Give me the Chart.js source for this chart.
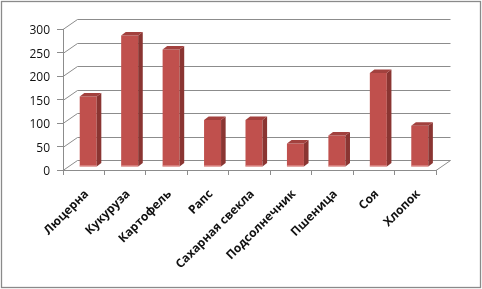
<!DOCTYPE html>
<html>
<head>
<meta charset="utf-8">
<script src="https://cdn.jsdelivr.net/npm/chart.js@4.4.1/dist/chart.umd.min.js"></script>
<style>
html,body{margin:0;padding:0;background:#fff;}
#wrap{width:482px;height:289px;position:relative;}
</style>
</head>
<body>
<div id="wrap"><canvas id="c" width="482" height="289"></canvas></div>
<script>
const categories = ["Люцерна","Кукуруза","Картофель","Рапс","Сахарная свекла","Подсолнечник","Пшеница","Соя","Хлопок"];
const values = [150, 280, 250, 100, 100, 50, 67, 200, 88];
const yTicks = [0, 50, 100, 150, 200, 250, 300];

const GRID = '#8c8c8c';
const WALL = {dx: 14.5, dy: -10};
const BAR_SHIFT = {dx: 4.5, dy: -3};
const BAR_DEPTH = {dx: 4.6, dy: -3.5};

const wallPlugin = {
  id: 'wall3d',
  beforeDatasetsDraw(chart) {
    const ctx = chart.ctx, y = chart.scales.y, a = chart.chartArea;
    ctx.save();
    ctx.strokeStyle = GRID;
    ctx.lineWidth = 1;
    ctx.beginPath();
    yTicks.forEach(v => {
      const py = Math.round(y.getPixelForValue(v)) + 0.5;
      ctx.moveTo(a.left, py);
      ctx.lineTo(a.left + WALL.dx, py + WALL.dy);
      ctx.lineTo(a.right + WALL.dx, py + WALL.dy);
    });
    const by = Math.round(y.getPixelForValue(0)) + 0.5;
    ctx.moveTo(a.right, by);
    ctx.lineTo(a.right + WALL.dx, by + WALL.dy);
    ctx.stroke();
    ctx.restore();
    ctx.save();
    ctx.translate(BAR_SHIFT.dx, BAR_SHIFT.dy);
  },
  afterDatasetsDraw(chart) {
    const ctx = chart.ctx;
    const meta = chart.getDatasetMeta(0);
    meta.data.forEach(bar => {
      const p = bar.getProps(['x','y','base','width'], true);
      const l = p.x - p.width/2, r = p.x + p.width/2, t = p.y, b = p.base;
      ctx.fillStyle = '#8a3532';
      ctx.beginPath();
      ctx.moveTo(r, t); ctx.lineTo(r + BAR_DEPTH.dx, t + BAR_DEPTH.dy);
      ctx.lineTo(r + BAR_DEPTH.dx, b + BAR_DEPTH.dy); ctx.lineTo(r, b); ctx.closePath();
      ctx.fill();
      ctx.fillStyle = '#a2413e';
      ctx.beginPath();
      ctx.moveTo(l, t); ctx.lineTo(l + BAR_DEPTH.dx, t + BAR_DEPTH.dy);
      ctx.lineTo(r + BAR_DEPTH.dx, t + BAR_DEPTH.dy); ctx.lineTo(r, t); ctx.closePath();
      ctx.fill();
      ctx.fillStyle = '#e9a9a7';
      ctx.fillRect(l, b - 1, r - l, 1);
    });
    ctx.restore();
  },
  afterDraw(chart) {
    const ctx = chart.ctx;
    ctx.save();
    ctx.strokeStyle = '#8a8a8a';
    ctx.lineWidth = 1.3;
    ctx.strokeRect(1.5, 1.5, 479, 286);
    ctx.restore();
  }
};

new Chart(document.getElementById('c'), {
  type: 'bar',
  data: {
    labels: categories,
    datasets: [{
      data: values,
      backgroundColor: '#c0504d',
      borderWidth: 0,
      barPercentage: 0.41,
      categoryPercentage: 1
    }]
  },
  options: {
    responsive: false,
    animation: false,
    devicePixelRatio: 1,
    layout: {padding: {left: 0, right: 46, top: 29, bottom: 0}},
    plugins: {legend: {display: false}, tooltip: {enabled: false}},
    scales: {
      x: {
        grid: {display: true, drawOnChartArea: false, drawTicks: true, tickLength: 5, color: GRID, offset: true},
        border: {display: true, color: GRID},
        ticks: {
          minRotation: 45, maxRotation: 45, autoSkip: false, padding: 12, labelOffset: 3,
          color: '#111',
          font: {family: '"Open Sans"', size: 12, weight: 'bold'}
        },
        afterFit(s) { s.height = 119; }
      },
      y: {
        min: 0, max: 300,
        grid: {display: true, drawOnChartArea: false, drawTicks: true, tickLength: 6, color: GRID},
        border: {display: true, color: GRID},
        ticks: {
          stepSize: 50, padding: 7, labelOffset: 2, color: '#111',
          font: {family: '"Open Sans"', size: 12}
        },
        afterFit(s) { s.width = 63; }
      }
    }
  },
  plugins: [wallPlugin]
});
</script>
</body>
</html>
